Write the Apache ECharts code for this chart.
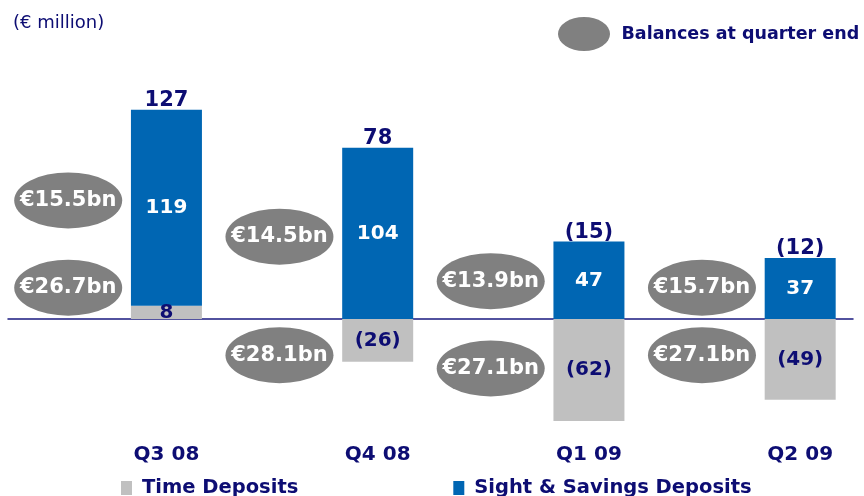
<!DOCTYPE html>
<html>
<head>
<meta charset="utf-8">
<script src="https://cdn.jsdelivr.net/npm/echarts@6/dist/echarts.min.js"></script>
<style>
    html, body { margin: 0; padding: 0; background: #fff; }
    #chart { width: 864px; height: 496px; }
</style>
</head>
<body>
<div id="chart"></div>
<script>
    const quarters = ['Q3 08', 'Q4 08', 'Q1 09', 'Q2 09'];
    const timeDeposits = [8, -26, -62, -49];
    const sightDeposits = [119, 104, 47, 37];
    const netChange = [127, 78, -15, -12];
    const sightBalances = ['€15.5bn', '€14.5bn', '€13.9bn', '€15.7bn'];
    const timeBalances = ['€26.7bn', '€28.1bn', '€27.1bn', '€27.1bn'];
    // height (in € million) where each balance bubble sits next to its bar
    const sightBubbleAt = [72, 50, 23, 19];
    const timeBubbleAt = [19, -22, -30, -22];

    const NAVY = '#0d0d73';
    const FONT = 'DejaVu Sans, Liberation Sans, Arial, sans-serif';
    const bubbleShift = -0.465;
    const fmt = v => v < 0 ? '(' + Math.abs(v) + ')' : String(v);

    // each quarter gets two slots: one for the balance bubbles, one for the bar
    let slots = [];
    quarters.forEach(q => { slots.push(q + ' balance'); slots.push(q); });
    const barSlot = i => 2 * i + 1;

    let bubbles = [];
    quarters.forEach((q, i) => {
        bubbles.push([i + bubbleShift, sightBubbleAt[i], sightBalances[i]]);
        bubbles.push([i + bubbleShift, timeBubbleAt[i], timeBalances[i]]);
    });

    let chart = echarts.init(document.getElementById('chart'));

    chart.setOption({
        animation: false,
        textStyle: { fontFamily: FONT },
        title: {
            text: '(€ million)',
            left: 8, top: 9,
            textStyle: { fontSize: 18, fontWeight: 'normal', color: NAVY, fontFamily: FONT }
        },
        legend: [
            {
                data: [{ name: 'Balances at quarter end', icon: 'path://M0,17 A26,17 0 1,1 52,17 A26,17 0 1,1 0,17 Z' }],
                left: 553, top: 12,
                itemWidth: 53, itemHeight: 34,
                textStyle: { fontSize: 17.5, fontWeight: 'bold', color: NAVY, fontFamily: FONT, padding: [0, 0, 0, 6] }
            },
            {
                data: ['Time Deposits', 'Sight & Savings Deposits'],
                left: 116, top: 473,
                icon: 'rect', itemWidth: 11, itemHeight: 14, itemGap: 155,
                textStyle: { fontSize: 19.5, fontWeight: 'bold', color: NAVY, fontFamily: FONT, padding: [0, 0, 0, 5] }
            }
        ],
        grid: { left: 8, right: 11, top: 72, bottom: 53.5 },
        xAxis: [
            {
                type: 'category', data: slots,
                axisLine: { show: true, onZero: true, lineStyle: { color: '#1a1a80', width: 1.5 } },
                axisTick: { show: false }, axisLabel: { show: false }, splitLine: { show: false }
            },
            {
                type: 'category', data: slots, position: 'bottom',
                axisLine: { show: false, onZero: false },
                axisTick: { show: false }, splitLine: { show: false },
                axisLabel: {
                    interval: idx => idx % 2 === 1,
                    margin: 2,
                    fontSize: 20, fontWeight: 'bold', color: NAVY, fontFamily: FONT
                }
            },
            {
                type: 'value', min: -0.75, max: 3.25, show: false
            }
        ],
        yAxis: {
            type: 'value', min: -75, max: 150,
            axisLine: { show: false }, axisTick: { show: false },
            axisLabel: { show: false }, splitLine: { show: false }
        },
        series: [
            {
                name: 'Time Deposits',
                type: 'bar', stack: 'dep', barWidth: 71, xAxisIndex: 0,
                itemStyle: { color: '#c0c0c0' },
                data: timeDeposits.map((v, i) => [barSlot(i), v]),
                label: {
                    show: true, position: 'inside',
                    formatter: p => fmt(p.value[1]),
                    color: NAVY, fontSize: 20, fontWeight: 'bold', fontFamily: FONT
                }
            },
            {
                name: 'Sight & Savings Deposits',
                type: 'bar', stack: 'dep', barWidth: 71, xAxisIndex: 0,
                itemStyle: { color: '#0066b3' },
                data: sightDeposits.map((v, i) => [barSlot(i), v]),
                label: {
                    show: true, position: 'inside',
                    formatter: p => fmt(p.value[1]),
                    color: '#fff', fontSize: 20, fontWeight: 'bold', fontFamily: FONT
                }
            },
            {
                name: 'net',
                type: 'scatter', symbolSize: 0, silent: true, xAxisIndex: 0,
                itemStyle: { opacity: 1 },
                data: netChange.map((v, i) => [barSlot(i), sightDeposits[i] + Math.max(0, timeDeposits[i]), v]),
                label: {
                    show: true, position: 'top', distance: -1,
                    formatter: p => fmt(p.value[2]),
                    color: NAVY, fontSize: 21, fontWeight: 'bold', fontFamily: FONT
                }
            },
            {
                name: 'Balances at quarter end',
                type: 'scatter', symbol: 'circle', symbolSize: [108, 56], xAxisIndex: 2,
                itemStyle: { color: '#808080', opacity: 1 },
                data: bubbles,
                label: {
                    show: true, position: 'inside',
                    formatter: p => p.value[2],
                    color: '#fff', fontSize: 21, fontWeight: 'bold', fontFamily: FONT
                }
            }
        ]
    });
</script>
</body>
</html>
